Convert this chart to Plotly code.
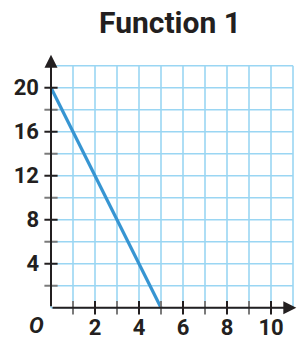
import plotly.graph_objects as go

# ---- data ----
line_x = [0, 5]
line_y = [20, 0]
x_tick_vals = [2, 4, 6, 8, 10]
x_tick_text = ["2", "4", "6", "8", "10"]
x_minor_vals = [1, 3, 5, 7, 9]
y_tick_vals = [4, 8, 12, 16, 20]
y_tick_text = ["4", "8", "12", "16", "20"]
y_minor_vals = [2, 6, 10, 14, 18]
title_text = "Function 1"

W, H = 297, 339
L, R, T, B = 44, 0, 50, 24
X_RANGE = [-7 / 22, 11.5 - 7 / 22]
Y_RANGE = [-0.66, 23.43]
GRID_X_MAX, GRID_Y_MAX = 11, 22

TEXT = "#231f20"
GRID = "#9ad6f3"
BLUE = "#3795d2"
MINOR = "#7a7a7a"

fig = go.Figure()
fig.add_trace(go.Scatter(x=line_x, y=line_y, mode="lines",
                         line=dict(color=BLUE, width=3.2), hoverinfo="skip"))

shapes = []
for gx in range(0, GRID_X_MAX + 1):
    shapes.append(dict(type="line", xref="x", yref="y", x0=gx, x1=gx, y0=0, y1=GRID_Y_MAX,
                       line=dict(color=GRID, width=1.6), layer="below"))
for gy in range(0, GRID_Y_MAX + 1, 2):
    shapes.append(dict(type="line", xref="x", yref="y", x0=0, x1=GRID_X_MAX, y0=gy, y1=gy,
                       line=dict(color=GRID, width=1.6), layer="below"))
for v in x_tick_vals:
    shapes.append(dict(type="line", xref="x", yref="y", x0=v, x1=v, y0=-0.62, y1=0.62,
                       line=dict(color=TEXT, width=2)))
for v in x_minor_vals:
    shapes.append(dict(type="line", xref="x", yref="y", x0=v, x1=v, y0=-0.62, y1=0.62,
                       line=dict(color=MINOR, width=2)))
for v in y_tick_vals:
    shapes.append(dict(type="line", xref="x", yref="y", x0=-0.3, x1=0.3, y0=v, y1=v,
                       line=dict(color=TEXT, width=2)))
for v in y_minor_vals:
    shapes.append(dict(type="line", xref="x", yref="y", x0=-0.3, x1=0.3, y0=v, y1=v,
                       line=dict(color=MINOR, width=2)))

annotations = [
    dict(x=0, y=23.0, ax=0, ay=0, xref="x", yref="y", axref="x", ayref="y", text="",
         showarrow=True, arrowhead=2, arrowsize=1.3, arrowwidth=2, arrowcolor=TEXT),
    dict(x=11.15, y=0, ax=0, ay=0, xref="x", yref="y", axref="x", ayref="y", text="",
         showarrow=True, arrowhead=2, arrowsize=1.3, arrowwidth=2, arrowcolor=TEXT),
    dict(x=-0.0296, y=-0.038, xref="paper", yref="paper", text="<b><i>O</i></b>",
         showarrow=False, xanchor="center", yanchor="middle",
         font=dict(family="Roboto", size=22, color=TEXT)),
]

fig.update_layout(
    width=W, height=H,
    margin=dict(l=L, r=R, t=T, b=B, pad=0, autoexpand=False),
    paper_bgcolor="white", plot_bgcolor="white",
    showlegend=False,
    shapes=shapes,
    annotations=annotations,
    title=dict(text="<b>" + title_text + "</b>", x=170 / W, xref="container", xanchor="center",
               y=1 - 22 / H, yref="container", yanchor="middle",
               font=dict(family="Roboto", size=30, color=TEXT)),
    font=dict(family="Roboto", color=TEXT),
)
fig.update_xaxes(range=X_RANGE, showgrid=False, zeroline=False, showline=False, automargin=False,
                 anchor="free", position=0.012,
                 tickmode="array", tickvals=x_tick_vals, ticktext=["<b>%s</b>" % t for t in x_tick_text],
                 ticks="", tickfont=dict(family="Roboto", size=22, color=TEXT),
                 ticklabelstandoff=0, fixedrange=True)
fig.update_yaxes(range=Y_RANGE, showgrid=False, zeroline=False, showline=False, automargin=False,
                 tickmode="array", tickvals=y_tick_vals, ticktext=["<b>%s</b>" % t for t in y_tick_text],
                 ticks="", tickfont=dict(family="Roboto", size=22, color=TEXT),
                 ticklabelstandoff=4, fixedrange=True)

fig.write_html("out.html", config={"displayModeBar": False},
               post_script="document.body.style.margin='0px';")
